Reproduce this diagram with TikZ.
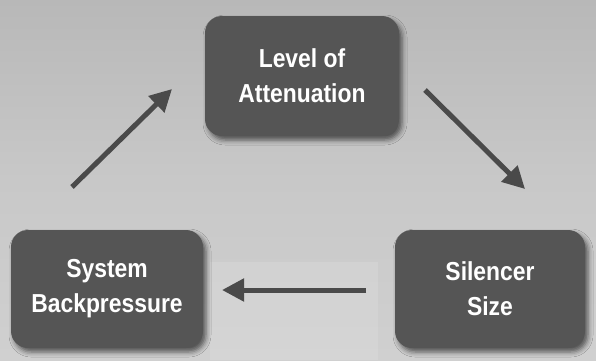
\documentclass[tikz,border=0pt]{standalone}
\usepackage{fontspec}
\setmainfont{Liberation Sans}
\newfontfamily\boxfont[FakeStretch=0.88]{Liberation Sans}
\usetikzlibrary{arrows.meta,shadows.blur}
\definecolor{boxgray}{HTML}{555555}
\definecolor{arrgray}{HTML}{4A4A4A}
\definecolor{bgtop}{HTML}{B8B8B8}
\definecolor{bgmid}{HTML}{C8C8C8}
\definecolor{bgbot}{HTML}{D0D0D0}
\begin{document}
\begin{tikzpicture}[x=1pt,y=-1pt,
  stepbox/.style={draw=none, fill=boxgray, rounded corners=17pt,
    minimum width=194pt, minimum height=120pt, text=white,
    font=\boxfont\bfseries\fontsize{26}{35}\selectfont, align=center,
    blur shadow={shadow xshift=3pt, shadow yshift=-4pt, shadow blur radius=5pt, shadow opacity=60}},
  flowarrow/.style={draw=arrgray, line width=5pt,
    -{Triangle[length=22pt,width=22pt]}}]
\useasboundingbox (0,0) rectangle (596,360);
\shade[top color=bgtop, bottom color=bgmid] (0,0) rectangle (596,180);
\shade[top color=bgmid, bottom color=bgbot] (0,180) rectangle (596,360);
\fill[white, opacity=0.12] (210,262) rectangle (378,360);
\node[stepbox] (lev) at (302,76) {Level of\\Attenuation};
\node[stepbox, minimum width=192pt, minimum height=118pt] (sys) at (107,289) {System\\Backpressure};
\node[stepbox, minimum width=190pt, minimum height=118pt] (sil) at (490,289) {Silencer\\Size};
\coordinate (a1s) at (72,187);
\coordinate (a1e) at (172,89);
\coordinate (a2s) at (425,90);
\coordinate (a2e) at (525,189);
\coordinate (a3s) at (366,290);
\coordinate (a3e) at (222,290);
\draw[flowarrow] (a1s) -- (a1e);
\draw[flowarrow] (a2s) -- (a2e);
\draw[flowarrow] (a3s) -- (a3e);
\end{tikzpicture}
\end{document}
